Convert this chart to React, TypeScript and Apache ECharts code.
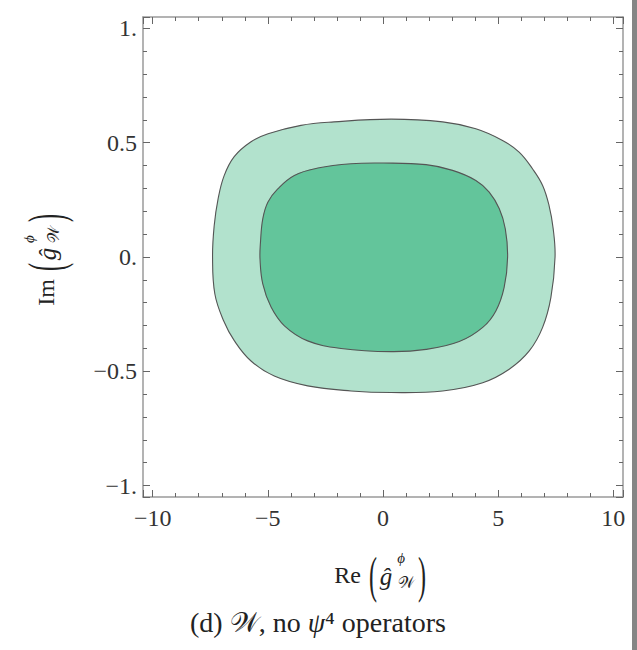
import React, { useEffect, useRef } from "react";
import * as echarts from "echarts";

// Contour boundaries: [Re, Im]
const outerContour: number[][] = [
  [7.47, 0.0], [7.39, 0.123], [7.21, 0.225], [6.93, 0.313], [6.49, 0.386], [5.91, 0.459],
  [5.19, 0.51], [4.03, 0.561], [2.59, 0.591], [0.35, 0.603], [-2.13, 0.591], [-3.56, 0.576],
  [-4.99, 0.539], [-5.73, 0.504], [-6.46, 0.439], [-6.9, 0.355], [-7.16, 0.254], [-7.33, 0.136],
  [-7.4, 0.0], [-7.3, -0.162], [-6.92, -0.279], [-6.45, -0.367], [-5.73, -0.455], [-4.72, -0.521],
  [-3.27, -0.564], [-1.39, -0.586], [0.35, -0.593], [2.59, -0.586], [4.33, -0.55], [5.48, -0.491],
  [6.35, -0.411], [6.93, -0.308], [7.29, -0.177],
];
const innerContour: number[][] = [
  [5.41, 0.0], [5.31, 0.123], [5.05, 0.211], [4.61, 0.284], [4.03, 0.335], [3.02, 0.379],
  [1.87, 0.404], [0.0, 0.411], [-1.39, 0.408], [-2.83, 0.389], [-3.85, 0.357], [-4.57, 0.298],
  [-5.0, 0.24], [-5.22, 0.167], [-5.32, 0.064], [-5.34, -0.009], [-5.22, -0.118], [-4.86, -0.219],
  [-4.28, -0.301], [-3.27, -0.367], [-1.82, -0.4], [0.35, -0.414], [1.87, -0.404], [3.31, -0.37],
  [4.33, -0.308], [4.9, -0.236], [5.26, -0.133],
];
const xRange = [-10.42, 10.42];
const yRange = [-1.05, 1.05];
const xStep = 5;
const yStep = 0.5;

const SERIF = "'Liberation Serif', 'DejaVu Serif', 'DejaVu Sans', 'Noto Sans', serif";
const FRAME = "#9a9a9a";
const TICK = "#666";

const fmt = (v: number, step: number, dotInts: boolean) => {
  const k = v / step;
  if (Math.abs(k - Math.round(k)) > 1e-6) return "";
  const a = Math.abs(v);
  const sign = v < -1e-9 ? "\u2212" : "";
  const isInt = Math.abs(a - Math.round(a)) < 1e-6;
  const s = isInt && dotInts ? `${Math.round(a)}.` : `${+a.toFixed(2)}`;
  return sign + s;
};

function mathTitle(prefix: string, cx: number, cy: number, rotation: number) {
  const base = { fontFamily: SERIF, fill: "#222", verticalAlign: "middle" };
  return {
    type: "group",
    x: cx,
    y: cy,
    rotation,
    children: [
      { type: "text", x: -17, y: 0, style: { ...base, text: prefix, fontSize: 24, align: "right" } },
      { type: "text", x: -5, y: 0, scaleY: 2.1, style: { ...base, text: "(", fontSize: 24, align: "center" } },
      { type: "text", x: 8, y: 1, style: { ...base, text: "\u011d", fontStyle: "italic", fontSize: 25, align: "center" } },
      { type: "text", x: 23, y: -17, style: { ...base, text: "\u03d5", fontStyle: "italic", fontSize: 15, align: "center" } },
      { type: "text", x: 28, y: 7, style: { ...base, text: "\ud835\udcb2", fontSize: 16, align: "center" } },
      { type: "text", x: 44, y: 0, scaleY: 2.1, style: { ...base, text: ")", fontSize: 24, align: "center" } },
    ],
  };
}

function contourSeries(points: number[][], fill: string) {
  return {
    type: "custom",
    coordinateSystem: "cartesian2d",
    xAxisIndex: 0,
    yAxisIndex: 0,
    data: [[0, 0]],
    renderItem: (_params: any, api: any) => ({
      type: "polygon",
      shape: { points: points.map((p) => api.coord(p)), smooth: 0.4 },
      style: { fill, stroke: "#555", lineWidth: 1.1 },
    }),
  };
}

function axisCommon(range: number[], step: number, dotInts: boolean, showLabel: boolean, margin: number) {
  return {
    type: "value",
    min: range[0],
    max: range[1],
    splitNumber: 5,
    axisLine: { show: true, onZero: false, lineStyle: { color: FRAME, width: 1.5 } },
    axisTick: { show: true, inside: true, length: 7, interval: 0, lineStyle: { color: TICK, width: 1 } },
    minorTick: { show: true, splitNumber: 5, length: 4, lineStyle: { color: TICK, width: 1 } },
    splitLine: { show: false },
    axisLabel: {
      show: showLabel,
      showMinLabel: false,
      showMaxLabel: false,
      interval: 0,
      margin,
      fontFamily: SERIF,
      fontSize: 24,
      color: "#333",
      formatter: (v: number) => fmt(v, step, dotInts),
    },
  };
}

export default function App() {
  const ref = useRef<HTMLDivElement>(null);
  useEffect(() => {
    if (!ref.current) return;
    const chart = echarts.init(ref.current, null, { renderer: "svg" });
    chart.setOption({
      animation: false,
      backgroundColor: "#fff",
      grid: { left: 143, right: 14, top: 17, bottom: 153, containLabel: false },
      xAxis: [
        { ...axisCommon(xRange, xStep, false, true, 9), position: "bottom" },
        { ...axisCommon(xRange, xStep, false, false, 8), position: "top" },
      ],
      yAxis: [
        { ...axisCommon(yRange, yStep, true, true, 6), position: "left" },
        { ...axisCommon(yRange, yStep, true, false, 6), position: "right" },
      ],
      series: [contourSeries(outerContour, "#b2e2cd"), contourSeries(innerContour, "#63c59b")],
      graphic: [
        mathTitle("Re", 378, 575, 0),
        mathTitle("Im", 46, 262, Math.PI / 2),
        {
          type: "text",
          x: 318,
          y: 622,
          style: {
            text: "(d) \ud835\udcb2, no {i|\u03c8}\u2074 operators",
            fontFamily: SERIF,
            fontSize: 28,
            fill: "#222",
            align: "center",
            verticalAlign: "middle",
            rich: { i: { fontFamily: SERIF, fontSize: 28, fontStyle: "italic", fill: "#222" } },
          },
        },
        { type: "rect", shape: { x: 632, y: 0, width: 5, height: 650 }, style: { fill: "#858585" } },
      ],
    });
    return () => chart.dispose();
  }, []);
  return <div ref={ref} style={{ position: "fixed", left: 0, top: 0, width: 637, height: 650 }} />;
}
